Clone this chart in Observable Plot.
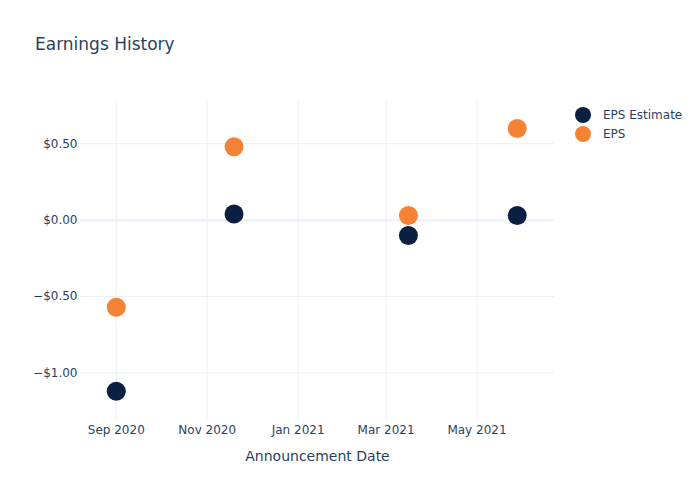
<!DOCTYPE html>
<html>
<head>
<meta charset="utf-8">
<script src="https://cdn.jsdelivr.net/npm/d3@7"></script>
<script src="https://cdn.jsdelivr.net/npm/@observablehq/plot@0.6"></script>
<style>
  body { margin: 0; background: #fff; }
  #wrap { position: relative; width: 700px; height: 500px; font-family: "DejaVu Sans", sans-serif; color: #2a3f5f; }
  #title { position: absolute; left: 35px; top: 34px; font-size: 17px; }
  #legend { position: absolute; left: 575px; top: 105px; font-size: 12px; }
  .item { display: flex; align-items: center; height: 19px; }
  .dot { width: 16px; height: 16px; border-radius: 50%; margin-right: 12px; }
  g[aria-label="x-axis label"] text { font-size: 14px; }
</style>
</head>
<body>
<div id="wrap">
  <div id="chart"></div>
  <div id="title">Earnings History</div>
  <div id="legend"></div>
</div>
<script>
const dates = ["2020-09-01", "2020-11-19", "2021-03-16", "2021-05-28"];
const epsEstimate = [-1.12, 0.04, -0.10, 0.03];
const eps = [-0.57, 0.48, 0.03, 0.60];
const seriesNames = ["EPS Estimate", "EPS"];
const seriesColors = ["#0b1f41", "#f58235"];
const xTicks = ["2020-09-01", "2020-11-01", "2021-01-01", "2021-03-01", "2021-05-01"];
const yTicks = [-1, -0.5, 0, 0.5];

const parse = d3.utcParse("%Y-%m-%d");
const rows = [];
dates.forEach((d, i) => {
  rows.push({date: parse(d), value: epsEstimate[i], series: seriesNames[0]});
  rows.push({date: parse(d), value: eps[i], series: seriesNames[1]});
});
const xt = xTicks.map(parse);

const chart = Plot.plot({
  width: 700,
  height: 500,
  marginLeft: 80,
  marginRight: 146,
  marginTop: 100,
  marginBottom: 80,
  style: {fontFamily: "DejaVu Sans, sans-serif", fontSize: "12px", color: "#2a3f5f", background: "#fff"},
  x: {type: "utc", domain: [parse("2020-08-08"), parse("2021-06-22")]},
  y: {domain: [-1.311, 0.783]},
  color: {domain: seriesNames, range: seriesColors},
  marks: [
    Plot.ruleX(xt, {x: d => d, stroke: "#ebf0f8", strokeWidth: 1}),
    Plot.ruleY(yTicks.filter(v => v !== 0), {y: d => d, stroke: "#ebf0f8", strokeWidth: 1}),
    Plot.ruleY([0], {stroke: "#ebf0f8", strokeWidth: 2}),
    Plot.axisY({ticks: yTicks, tickFormat: d3.format("$.2f"), tickSize: 0, tickPadding: 3, label: null}),
    Plot.axisX({ticks: xt, tickFormat: d3.utcFormat("%b %Y"), tickSize: 0, tickPadding: 5,
      label: "Announcement Date", labelAnchor: "center", labelArrow: "none", labelOffset: 40}),
    Plot.dot(rows, {x: "date", y: "value", fill: "series", r: 9.5, stroke: "none"})
  ]
});
document.getElementById("chart").appendChild(chart);

const legend = document.getElementById("legend");
seriesNames.forEach((name, i) => {
  const item = document.createElement("div");
  item.className = "item";
  const dot = document.createElement("span");
  dot.className = "dot";
  dot.style.background = seriesColors[i];
  const label = document.createElement("span");
  label.textContent = name;
  item.appendChild(dot);
  item.appendChild(label);
  legend.appendChild(item);
});
</script>
</body>
</html>
